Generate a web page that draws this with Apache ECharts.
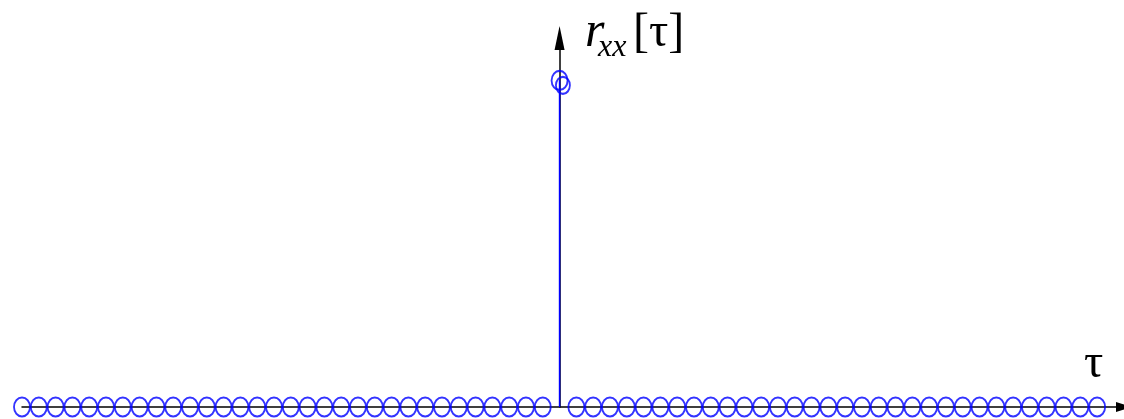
<!DOCTYPE html>
<html>
<head>
<meta charset="utf-8">
<script src="https://cdn.jsdelivr.net/npm/echarts@6/dist/echarts.min.js"></script>
<style>
  html, body { margin: 0; padding: 0; background: #ffffff; }
  #chart { width: 1124px; height: 419px; }
</style>
</head>
<body>
<div id="chart"></div>
<script>
// Lags and autocorrelation of white noise: a single spike at τ = 0.
const lags = [-32, -31, -30, -29, -28, -27, -26, -25, -24, -23, -22, -21, -20, -19, -18, -17,
              -16, -15, -14, -13, -12, -11, -10, -9, -8, -7, -6, -5, -4, -3, -2, -1,
              0,
              1, 2, 3, 4, 5, 6, 7, 8, 9, 10, 11, 12, 13, 14, 15, 16,
              17, 18, 19, 20, 21, 22, 23, 24, 25, 26, 27, 28, 29, 30, 31, 32];
const rxx = [0, 0, 0, 0, 0, 0, 0, 0, 0, 0, 0, 0, 0, 0, 0, 0,
             0, 0, 0, 0, 0, 0, 0, 0, 0, 0, 0, 0, 0, 0, 0, 0,
             1,
             0, 0, 0, 0, 0, 0, 0, 0, 0, 0, 0, 0, 0, 0, 0, 0,
             0, 0, 0, 0, 0, 0, 0, 0, 0, 0, 0, 0, 0, 0, 0, 0];
// second marker drawn at the peak (slightly offset sample)
const peakRepeatLag = [0.2];
const peakRepeatValue = [0.985];

const BLUE = '#0000ff';
const SERIF = 'Liberation Serif';
const points = lags.map((t, i) => [t, rxx[i]]);
const peakRepeat = peakRepeatLag.map((t, i) => [t, peakRepeatValue[i]]);

const chart = echarts.init(document.getElementById('chart'), null, { renderer: 'canvas' });
chart.setOption({
  animation: false,
  backgroundColor: '#ffffff',
  textStyle: { fontFamily: SERIF },
  grid: { left: 22, right: 0, top: 38, bottom: 12, containLabel: false },
  xAxis: {
    type: 'value', min: -32, max: 33.6,
    axisLine: {
      show: true, onZero: true,
      symbol: ['none', 'triangle'], symbolSize: [10, 16],
      lineStyle: { color: '#000000', width: 1.5 }
    },
    axisTick: { show: false }, axisLabel: { show: false }, splitLine: { show: false }
  },
  yAxis: {
    type: 'value', min: 0, max: 1.13,
    axisLine: {
      show: true, onZero: true,
      symbol: ['none', 'triangle'], symbolSize: [10, 24],
      lineStyle: { color: '#000000', width: 1.5 }
    },
    axisTick: { show: false }, axisLabel: { show: false }, splitLine: { show: false }
  },
  title: [
    { text: 'r', left: 585, top: 8, padding: 0,
      textStyle: { fontFamily: SERIF, fontStyle: 'italic', fontWeight: 'normal', fontSize: 50, color: '#000' } },
    { text: 'xx', left: 598, top: 32, padding: 0,
      textStyle: { fontFamily: SERIF, fontStyle: 'italic', fontWeight: 'normal', fontSize: 32, color: '#000' } },
    { text: '[τ]', left: 633, top: 9, padding: 0,
      textStyle: { fontFamily: SERIF, fontWeight: 'normal', fontSize: 48, color: '#000' } },
    { text: 'τ', left: 1084, top: 340, padding: 0,
      textStyle: { fontFamily: SERIF, fontWeight: 'normal', fontSize: 48, color: '#000' } }
  ],
  series: [
    {
      // stems
      type: 'bar', data: points, barWidth: 1.5, z: 3,
      itemStyle: { color: BLUE }
    },
    {
      // sample markers
      type: 'scatter', data: points, symbol: 'circle', symbolSize: [16, 19], clip: false, z: 4,
      itemStyle: { color: 'transparent', borderColor: BLUE, borderWidth: 2 }
    },
    {
      type: 'scatter', data: peakRepeat, symbol: 'circle', symbolSize: [14, 17], clip: false, z: 4,
      itemStyle: { color: 'transparent', borderColor: BLUE, borderWidth: 2 }
    }
  ]
});
</script>
</body>
</html>
